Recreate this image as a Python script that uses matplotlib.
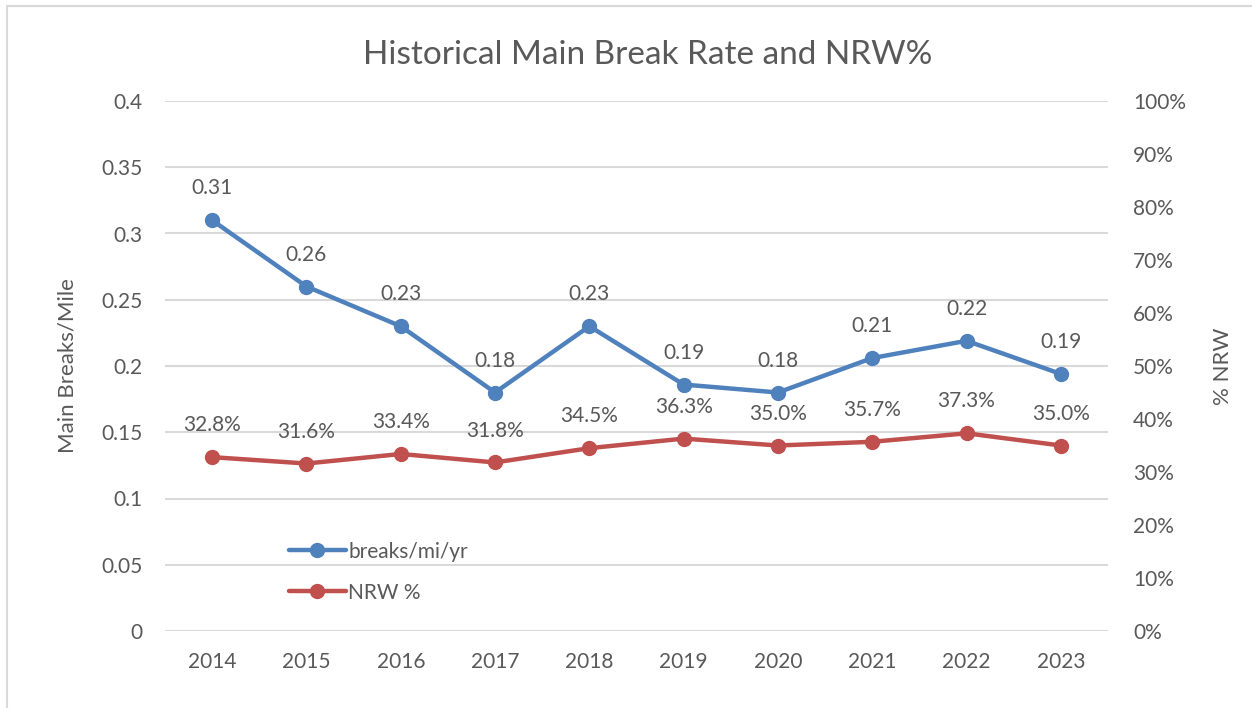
import matplotlib
matplotlib.use("Agg")
import matplotlib.pyplot as plt
from matplotlib.patches import Rectangle
from matplotlib.ticker import FuncFormatter, MultipleLocator

years = ["2014", "2015", "2016", "2017", "2018", "2019", "2020", "2021", "2022", "2023"]
break_rate = [0.31, 0.26, 0.23, 0.18, 0.23, 0.186, 0.18, 0.206, 0.219, 0.194]
nrw_pct = [32.8, 31.6, 33.4, 31.8, 34.5, 36.3, 35.0, 35.7, 37.3, 35.0]

BLUE = "#4F81BD"
RED = "#C0504D"
TXT = "#595959"
GRID = "#D9D9D9"

plt.rcParams["font.family"] = ["Lato", "DejaVu Sans"]

fig = plt.figure(figsize=(12.52, 7.08), dpi=100)
# light chart-area border like the spreadsheet export
fig.patches.append(Rectangle((7 / 1252, -0.05), 1.2, 1.05 - 6 / 708, transform=fig.transFigure,
                             fill=False, edgecolor=GRID, linewidth=1.5))

ax = fig.add_axes([165 / 1252, 1 - 631 / 708, (1108 - 165) / 1252, (631 - 101) / 708])
ax2 = ax.twinx()

x = list(range(len(years)))

l1, = ax.plot(x, break_rate, color=BLUE, linewidth=3.2, marker="o", markersize=10,
              label="breaks/mi/yr", zorder=3, solid_capstyle="round")
l2, = ax2.plot(x, nrw_pct, color=RED, linewidth=3.2, marker="o", markersize=10,
               label="NRW %", zorder=3, solid_capstyle="round")

# data labels above each point
for xi, v in zip(x, break_rate):
    ax.annotate(f"{v:.2f}", xy=(xi, v), xytext=(0, 23), textcoords="offset points",
                ha="center", va="center", fontsize=15, color=TXT)
for xi, v in zip(x, nrw_pct):
    ax2.annotate(f"{v:.1f}%", xy=(xi, v), xytext=(0, 23), textcoords="offset points",
                 ha="center", va="center", fontsize=15, color=TXT)

ax.set_xlim(-0.5, len(years) - 0.5)
ax.set_ylim(0, 0.4)
ax.yaxis.set_major_locator(MultipleLocator(0.05))
ax.yaxis.set_major_formatter(FuncFormatter(lambda v, p: f"{v:g}"))
ax2.set_ylim(0, 100)
ax2.yaxis.set_major_locator(MultipleLocator(10))
ax2.yaxis.set_major_formatter(FuncFormatter(lambda v, p: f"{v:.0f}%"))

ax.set_xticks(x)
ax.set_xticklabels(years)
ax.grid(axis="y", color=GRID, linewidth=1.5)
ax.set_axisbelow(True)

for a in (ax, ax2):
    for s in a.spines.values():
        s.set_visible(False)
    a.tick_params(axis="both", length=0, labelsize=15, labelcolor=TXT)
ax.tick_params(axis="x", pad=15)
ax.tick_params(axis="y", pad=16)
ax2.tick_params(axis="y", pad=18)

ax.set_ylabel("Main Breaks/Mile", fontsize=16, color=TXT)
ax2.set_ylabel("% NRW", fontsize=16, color=TXT)
ax.yaxis.set_label_coords(-0.093, 0.5)
ax2.yaxis.set_label_coords(1.111, 0.5)

fig.text(648 / 1252, 1 - 55 / 708, "Historical Main Break Rate and NRW%", ha="center",
         va="center", fontsize=24, color=TXT)

ax2.legend(handles=[l1, l2], loc="upper left", bbox_to_anchor=(270 / 1252, 1 - 523 / 708),
           bbox_transform=fig.transFigure, frameon=False, fontsize=15, labelcolor=TXT,
           handlelength=2.75, handletextpad=0.1, labelspacing=1.0)

fig.savefig("out.png", dpi=100)
